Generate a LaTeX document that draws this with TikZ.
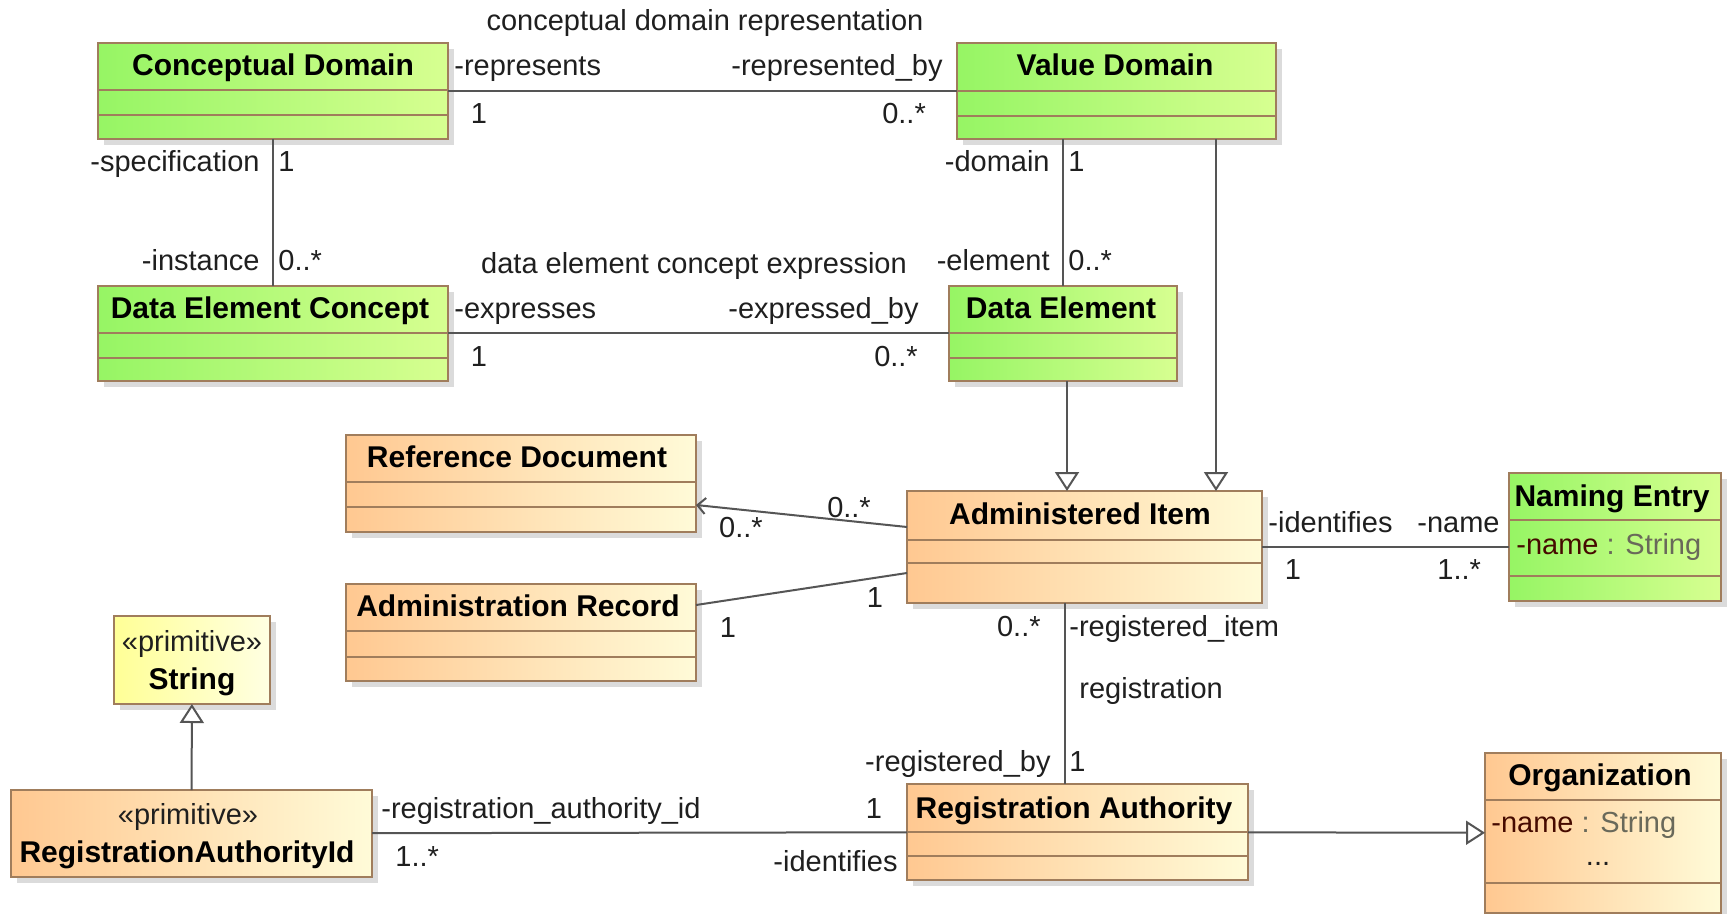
\documentclass[tikz,border=0pt]{standalone}
\usepackage{fontspec}
\setmainfont{Liberation Sans}
\usetikzlibrary{arrows.meta,shadows}

\definecolor{greenL}{RGB}{150,245,100}
\definecolor{greenR}{RGB}{215,255,145}
\definecolor{orangeL}{RGB}{255,200,145}
\definecolor{orangeR}{RGB}{255,251,216}
\definecolor{yellowL}{RGB}{255,255,150}
\definecolor{yellowR}{RGB}{255,255,226}
\definecolor{boxline}{RGB}{160,125,92}
\definecolor{conn}{RGB}{85,85,85}
\definecolor{attrname}{RGB}{70,10,0}
\definecolor{attrtype}{RGB}{105,105,90}

\tikzstyle{umlbox} = [draw=boxline, line width=1pt, inner sep=0pt, outer sep=0pt, drop shadow={shadow xshift=3pt, shadow yshift=-3pt, fill=black!28}]
\tikzstyle{greenbox} = [umlbox, left color=greenL, right color=greenR]
\tikzstyle{orangebox} = [umlbox, left color=orangeL, right color=orangeR]
\tikzstyle{yellowbox} = [umlbox, left color=yellowL, right color=yellowR]
\tikzstyle{compline} = [draw=boxline, line width=1pt]
\tikzstyle{head} = [inner sep=0pt, text height=11pt, text depth=3pt, font=\fontsize{15}{18}\selectfont\bfseries]
\tikzstyle{lbl} = [inner sep=0pt, text height=10pt, text depth=3pt, text=black!88, font=\fontsize{14.5}{17}\selectfont]
\tikzstyle{assoc} = [draw=conn, line width=1pt]
\tikzstyle{gen} = [assoc, -{Triangle[length=9.5pt, width=12pt, fill=white]}]
\tikzstyle{nav} = [assoc, -{Straight Barb[length=4pt, width=8pt]}]

\begin{document}
\begin{tikzpicture}[x=0.5pt, y=-0.5pt]
  \path[use as bounding box, fill=white] (0,0) rectangle (1727,914);

  % classes
  \node[greenbox, minimum width=175pt, minimum height=48pt] (cd) at (273,91) {};
  \draw[compline] (98,90) -- (448,90) (98,115) -- (448,115);
  \node[head] (cdT) at (273,68) {Conceptual Domain};

  \node[greenbox, minimum width=159.5pt, minimum height=48pt] (vd) at (1116.5,91) {};
  \draw[compline] (957,91) -- (1276,91) (957,116) -- (1276,116);
  \node[head] (vdT) at (1115,68) {Value Domain};

  \node[greenbox, minimum width=175pt, minimum height=47.5pt] (dec) at (273,333.5) {};
  \draw[compline] (98,333) -- (448,333) (98,358) -- (448,358);
  \node[head] (decT) at (270,311) {Data Element Concept};

  \node[greenbox, minimum width=114pt, minimum height=47.5pt] (de) at (1063,333.5) {};
  \draw[compline] (949,333) -- (1177,333) (949,358) -- (1177,358);
  \node[head] (deT) at (1061,311) {Data Element};

  \node[orangebox, minimum width=177.5pt, minimum height=56pt] (ai) at (1084.5,547) {};
  \draw[compline] (907,540) -- (1262,540) (907,563) -- (1262,563);
  \node[head] (aiT) at (1080,516) {Administered Item};

  \node[orangebox, minimum width=175pt, minimum height=48.5pt] (rd) at (521,483.5) {};
  \draw[compline] (346,482) -- (696,482) (346,507) -- (696,507);
  \node[head] (rdT) at (517,459) {Reference Document};

  \node[orangebox, minimum width=175pt, minimum height=48.5pt] (ar) at (521,632.5) {};
  \draw[compline] (346,631) -- (696,631) (346,657) -- (696,657);
  \node[head] (arT) at (518,608) {Administration Record};

  \node[greenbox, minimum width=106pt, minimum height=64pt] (ne) at (1615,537) {};
  \draw[compline] (1509,520) -- (1721,520) (1509,576) -- (1721,576);
  \node[head] (neT) at (1612,498) {Naming Entry};
  \node[lbl, anchor=west] (neA) at (1516,547) {\textcolor{attrname}{-name} \textcolor{attrtype}{: String}};

  \node[orangebox, minimum width=118pt, minimum height=80pt] (org) at (1603,833) {};
  \draw[compline] (1485,800) -- (1721,800) (1485,883) -- (1721,883);
  \node[head] (orgT) at (1600,777) {Organization};
  \node[lbl, anchor=west] (orgA) at (1491,825) {\textcolor{attrname}{-name} \textcolor{attrtype}{: String}};
  \node[lbl] (orgD) at (1598,858) {...};

  \node[orangebox, minimum width=170.5pt, minimum height=48pt] (ra) at (1077.5,832) {};
  \draw[compline] (907,832) -- (1248,832) (907,856) -- (1248,856);
  \node[head] (raT) at (1074,810) {Registration Authority};

  \node[yellowbox, minimum width=78pt, minimum height=44pt] (str) at (192,660) {};
  \node[lbl] (strS) at (192,644) {«primitive»};
  \node[head] (strT) at (192,681) {String};

  \node[orangebox, minimum width=180.5pt, minimum height=43.5pt] (raid) at (191.5,833.5) {};
  \node[lbl] (raidS) at (188,817) {«primitive»};
  \node[head] (raidT) at (187,854) {RegistrationAuthorityId};

  % connectors
  \draw[assoc] (cd) -- (vd);
  \draw[assoc] (dec) -- (de);
  \draw[assoc] (cd) -- (dec);
  \draw[assoc] (de.north) -- (de.north |- vd.south);
  \coordinate (vdgen) at (1216,139);
  \draw[gen] (vdgen) -- (vdgen |- ai.north);
  \coordinate (degen) at (1067,381);
  \draw[gen] (degen) -- (degen |- ai.north);
  \draw[nav] ([yshift=10pt]ai.west) -- ([yshift=-10.75pt]rd.east);
  \draw[assoc] ([yshift=-13pt]ai.west) -- ([yshift=13.75pt]ar.east);
  \draw[assoc] (ai) -- (ai -| ne.west);
  \coordinate (reg) at (1065,603);
  \draw[assoc] (reg) -- (reg |- ra.north);
  \draw[assoc] (raid) -- (ra);
  \draw[gen] (raid) -- (str);
  \draw[gen] (ra) -- (org);

  % association ends
  \node[lbl] (cdvdT) at (705,24) {conceptual domain representation};
  \node[lbl, anchor=west] (cdR) at (454,69) {-represents};
  \node[lbl, anchor=east] (vdR) at (943,69) {-represented\_by};
  \node[lbl] (cdM) at (479,117) {1};
  \node[lbl] (vdM) at (904,117) {0..*};
  \node[lbl] (decdeT) at (694,267) {data element concept expression};
  \node[lbl, anchor=west] (decR) at (454,312) {-expresses};
  \node[lbl, anchor=east] (deR) at (919,312) {-expressed\_by};
  \node[lbl] (decM) at (479,359) {1};
  \node[lbl] (deM) at (896,359) {0..*};
  \node[lbl, anchor=east] (specR) at (260,165) {-specification};
  \node[lbl, anchor=west] (specM) at (278,165) {1};
  \node[lbl, anchor=east] (instR) at (260,264) {-instance};
  \node[lbl, anchor=west] (instM) at (278,264) {0..*};
  \node[lbl, anchor=east] (domR) at (1050,165) {-domain};
  \node[lbl, anchor=west] (domM) at (1068,165) {1};
  \node[lbl, anchor=east] (elR) at (1050,264) {-element};
  \node[lbl, anchor=west] (elM) at (1068,264) {0..*};
  \node[lbl] (rdM1) at (849,510) {0..*};
  \node[lbl] (rdM2) at (741,530) {0..*};
  \node[lbl] (arM1) at (875,600) {1};
  \node[lbl] (arM2) at (728,630) {1};
  \node[lbl, anchor=west] (neR1) at (1268,525) {-identifies};
  \node[lbl, anchor=west] (neR2) at (1417,525) {-name};
  \node[lbl] (neM1) at (1293,572) {1};
  \node[lbl, anchor=west] (neM2) at (1437,572) {1..*};
  \node[lbl, anchor=east] (regM1) at (1041,629) {0..*};
  \node[lbl, anchor=west] (regR1) at (1069,629) {-registered\_item};
  \node[lbl, anchor=west] (regT) at (1079,691) {registration};
  \node[lbl, anchor=east] (regR2) at (1051,764) {-registered\_by};
  \node[lbl, anchor=west] (regM2) at (1069,764) {1};
  \node[lbl, anchor=west] (raidR) at (381,811) {-registration\_authority\_id};
  \node[lbl] (raidM1) at (874,811) {1};
  \node[lbl, anchor=west] (raidM2) at (395,859) {1..*};
  \node[lbl, anchor=east] (raR) at (898,864) {-identifies};
\end{tikzpicture}
\end{document}
